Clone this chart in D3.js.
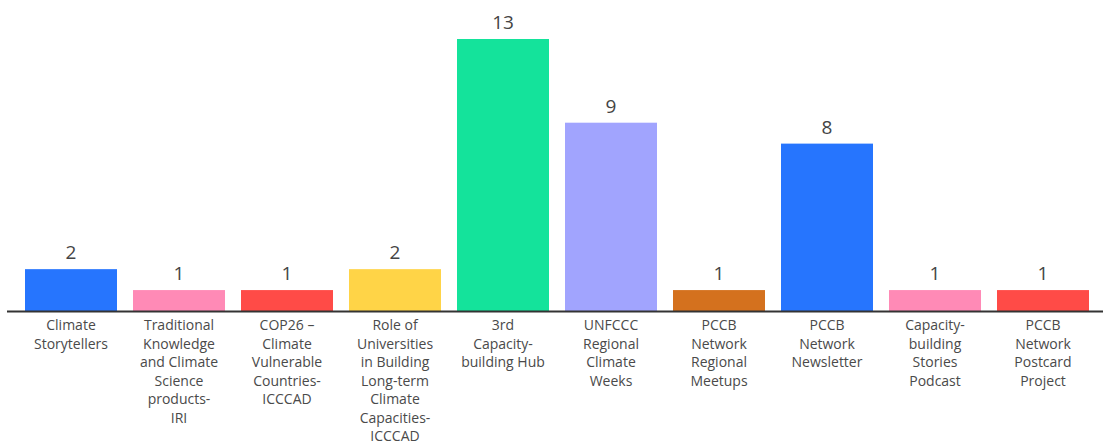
<!DOCTYPE html>
<html><head><meta charset="utf-8">
<script src="https://cdn.jsdelivr.net/npm/d3@7"></script>
<style>body{margin:0;background:#fff;}svg{display:block;}</style>
</head><body>
<svg id="c" width="1103" height="441"></svg>
<script>
const categories = [
  "Climate Storytellers",
  "Traditional Knowledge and Climate Science products-IRI",
  "COP26 – Climate Vulnerable Countries-ICCCAD",
  "Role of Universities in Building Long-term Climate Capacities-ICCCAD",
  "3rd Capacity-building Hub",
  "UNFCCC Regional Climate Weeks",
  "PCCB Network Regional Meetups",
  "PCCB Network Newsletter",
  "Capacity-building Stories Podcast",
  "PCCB Network Postcard Project"
];
const labelLines = [
  ["Climate","Storytellers"],
  ["Traditional","Knowledge","and Climate","Science","products-","IRI"],
  ["COP26 –","Climate","Vulnerable","Countries-","ICCCAD"],
  ["Role of","Universities","in Building","Long-term","Climate","Capacities-","ICCCAD"],
  ["3rd","Capacity-","building Hub"],
  ["UNFCCC","Regional","Climate","Weeks"],
  ["PCCB","Network","Regional","Meetups"],
  ["PCCB","Network","Newsletter"],
  ["Capacity-","building","Stories","Podcast"],
  ["PCCB","Network","Postcard","Project"]
];
const values = [2,1,1,2,13,9,1,8,1,1];
const colors = ["#2675FE","#FF8AB6","#FF4B47","#FFD447","#14E39B","#A1A4FE","#D4711E","#2675FE","#FF8AB6","#FF4B47"];

const svg = d3.select("#c");
const x = d3.scaleBand().domain(categories).range([25,1089]).paddingInner(16/108).paddingOuter(0);
const y = d3.scaleLinear().domain([0,13]).range([311,39]);
const font = "'Open Sans', Lato, sans-serif";

svg.selectAll("rect.bar").data(values).join("rect")
  .attr("class","bar")
  .attr("x",(d,i)=>x(categories[i]))
  .attr("width",x.bandwidth())
  .attr("y",d=>y(d))
  .attr("height",d=>y(0)-y(d))
  .attr("fill",(d,i)=>colors[i]);

svg.selectAll("text.val").data(values).join("text")
  .attr("class","val")
  .attr("x",(d,i)=>x(categories[i])+x.bandwidth()/2)
  .attr("y",d=>y(d)-10)
  .attr("text-anchor","middle")
  .attr("font-family",font)
  .attr("font-size",19)
  .attr("fill","#444")
  .text(d=>d);

svg.append("line")
  .attr("x1",7).attr("x2",1103)
  .attr("y1",y(0)+0.5).attr("y2",y(0)+0.5)
  .attr("stroke","#333").attr("stroke-width",2);

const g = svg.selectAll("text.lab").data(labelLines).join("text")
  .attr("class","lab")
  .attr("text-anchor","middle")
  .attr("font-family",font)
  .attr("font-size",14)
  .attr("fill","#4a4a4a")
  .attr("transform",(d,i)=>`translate(${x(categories[i])+x.bandwidth()/2},330)`);
g.selectAll("tspan").data(d=>d).join("tspan")
  .attr("x",0)
  .attr("y",(d,j)=>j*18.5)
  .text(d=>d);
</script>
</body></html>
